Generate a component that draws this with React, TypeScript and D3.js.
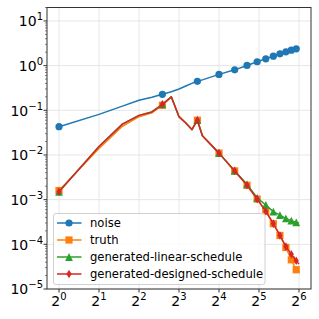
import { line, scaleLog } from "d3";

// vertices of the plotted lines (x is the step), markers every 5 steps
const steps = [1, 2, 3, 4, 5, 6, 7, 8, 9, 10, 11, 12, 16, 21, 26, 31, 36, 41, 46, 51, 56, 61, 64];
const markerSteps = [1, 6, 11, 16, 21, 26, 31, 36, 41, 46, 51, 56, 61];

const noise = [0.043, 0.081, 0.124, 0.168, 0.195, 0.228, 0.26, 0.3, 0.35, 0.4, 0.446, 0.48, 0.636, 0.805, 1.01, 1.22, 1.42, 1.63, 1.84, 2.04, 2.22, 2.38, 2.48];
const truth = [0.0016, 0.014, 0.044, 0.072, 0.088, 0.13, 0.2, 0.072, 0.052, 0.037, 0.06, 0.027, 0.011, 0.0044, 0.0021, 0.00103, 0.00055, 0.00029, 0.000158, 0.000085, 0.000045, 0.000027, 0.000024];
const linearSchedule = [0.0015, 0.0155, 0.049, 0.077, 0.092, 0.136, 0.2, 0.072, 0.052, 0.037, 0.06, 0.027, 0.011, 0.0044, 0.0022, 0.0011, 0.00076, 0.00054, 0.00045, 0.00038, 0.00034, 0.00031, 0.0003];
const designedSchedule = [0.0015, 0.0155, 0.049, 0.077, 0.092, 0.136, 0.2, 0.072, 0.052, 0.037, 0.06, 0.027, 0.011, 0.0044, 0.0021, 0.00103, 0.00055, 0.00029, 0.000158, 0.000089, 0.00006, 0.000043, 0.000036];

const seriesNames = ["noise", "truth", "generated-linear-schedule", "generated-designed-schedule"];
const seriesValues = [noise, truth, linearSchedule, designedSchedule];
const colors = ["#1f77b4", "#ff7f0e", "#2ca02c", "#d62728"];
const markers = ["circle", "square", "triangle", "diamond"];

const xTickExps = [0, 1, 2, 3, 4, 5, 6];
const yTickExps = [-5, -4, -3, -2, -1, 0, 1];

const W = 319;
const H = 319;
const plot = { left: 47, right: 311, top: 7.5, bottom: 289 };
const FONT = "DejaVu Sans, sans-serif";

function Marker({ kind, x, y, color }: { kind: string; x: number; y: number; color: string }) {
    if (kind === "circle") return <circle cx={x} cy={y} r={3.6} fill={color} />;
    if (kind === "square") return <rect x={x - 3.6} y={y - 3.6} width={7.2} height={7.2} fill={color} />;
    if (kind === "triangle") {
        const r = 3.9;
        return <path d={`M${x},${y - r}L${x + r},${y + r}L${x - r},${y + r}Z`} fill={color} />;
    }
    const r = 4.3;
    return <path d={`M${x},${y - r}L${x + r * 0.6},${y}L${x},${y + r}L${x - r * 0.6},${y}Z`} fill={color} />;
}

export default function App() {
    const x = scaleLog().base(2).domain([Math.pow(2, -0.3), Math.pow(2, 6.3)]).range([plot.left, plot.right]);
    const y = scaleLog().domain([1e-5, 20]).range([plot.bottom, plot.top]);

    const minorY: number[] = [];
    for (let e = -5; e <= 1; e++) {
        for (let m = 2; m <= 9; m++) {
            const v = m * Math.pow(10, e);
            if (v <= 20) minorY.push(v);
        }
    }

    const path = line<number>()
        .x((_, i) => x(steps[i]))
        .y((d) => y(d));

    const legend = { x: 53.5, y: 213.5, w: 211.5, h: 71 };

    return (
        <svg width={W} height={H} style={{ position: "absolute", left: 0, top: 0 }} fontFamily={FONT}>
            <rect width={W} height={H} fill="#fff" />
            <defs>
                <clipPath id="plotclip">
                    <rect x={plot.left} y={plot.top} width={plot.right - plot.left} height={plot.bottom - plot.top} />
                </clipPath>
            </defs>
            {/* grid */}
            <g stroke="#e6e6e6" strokeWidth={1}>
                {xTickExps.map((e) => (
                    <line key={`gx${e}`} x1={x(Math.pow(2, e))} x2={x(Math.pow(2, e))} y1={plot.top} y2={plot.bottom} />
                ))}
                {yTickExps.map((e) => (
                    <line key={`gy${e}`} x1={plot.left} x2={plot.right} y1={y(Math.pow(10, e))} y2={y(Math.pow(10, e))} />
                ))}
            </g>
            {/* series */}
            <g clipPath="url(#plotclip)">
                {seriesValues.map((vals, si) => (
                    <g key={seriesNames[si]}>
                        <path d={path(vals) ?? ""} fill="none" stroke={colors[si]} strokeWidth={1.5} strokeLinejoin="round" />
                        {markerSteps.map((s) => {
                            const i = steps.indexOf(s);
                            return <Marker key={s} kind={markers[si]} x={x(s)} y={y(vals[i])} color={colors[si]} />;
                        })}
                    </g>
                ))}
            </g>
            {/* spines */}
            <rect
                x={plot.left}
                y={plot.top}
                width={plot.right - plot.left}
                height={plot.bottom - plot.top}
                fill="none"
                stroke="#333"
                strokeWidth={1}
            />
            {/* x ticks */}
            {xTickExps.map((e) => {
                const px = x(Math.pow(2, e));
                return (
                    <g key={`xt${e}`}>
                        <line x1={px} x2={px} y1={plot.bottom} y2={plot.bottom + 3.5} stroke="#333" />
                        <text x={px} y={306} fontSize={14} textAnchor="middle" fill="#000">
                            2<tspan fontSize={10} dy={-6}>{e}</tspan>
                        </text>
                    </g>
                );
            })}
            {/* y ticks */}
            {minorY.map((v) => (
                <line key={`my${v}`} x1={plot.left - 2} x2={plot.left} y1={y(v)} y2={y(v)} stroke="#333" strokeWidth={0.6} />
            ))}
            {yTickExps.map((e) => {
                const py = y(Math.pow(10, e));
                return (
                    <g key={`yt${e}`}>
                        <line x1={plot.left - 3.5} x2={plot.left} y1={py} y2={py} stroke="#333" />
                        <text x={43} y={py + 5.3} fontSize={14} textAnchor="end" fill="#000">
                            10<tspan fontSize={10} dy={-6}>{e < 0 ? `\u2212${-e}` : `${e}`}</tspan>
                        </text>
                    </g>
                );
            })}
            {/* legend */}
            <rect
                x={legend.x}
                y={legend.y}
                width={legend.w}
                height={legend.h}
                rx={2.5}
                fill="#fff"
                fillOpacity={0.8}
                stroke="#d0d0d0"
                strokeWidth={1}
            />
            {seriesNames.map((name, si) => {
                const ly = 223 + si * 17;
                return (
                    <g key={`lg${name}`}>
                        <line x1={57} x2={81.5} y1={ly} y2={ly} stroke={colors[si]} strokeWidth={1.5} />
                        <Marker kind={markers[si]} x={69} y={ly} color={colors[si]} />
                        <text x={90} y={ly + 4.2} fontSize={11.6} fill="#000">
                            {name}
                        </text>
                    </g>
                );
            })}
        </svg>
    );
}
